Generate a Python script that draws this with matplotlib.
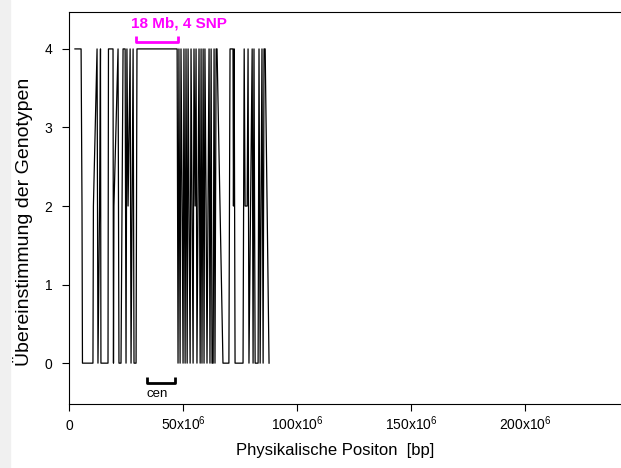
import matplotlib
matplotlib.use("Agg")
import matplotlib.pyplot as plt
from matplotlib.patches import Rectangle
import numpy as np

plt.rcParams['font.family'] = ['Liberation Sans', 'DejaVu Sans']
plt.rcParams['mathtext.default'] = 'regular'

# position (Mb) and genotype agreement
pos_mb = [2.6, 5.3, 5.7, 5.9, 10.5, 10.7, 12.3, 12.7, 13.4, 13.8, 14.0, 17.1, 17.3, 19.3,
          19.5, 19.7, 21.5, 21.9, 22.8, 23.7, 24.6, 25.0, 25.4, 25.9, 26.8, 27.2, 28.1,
          28.5, 29.4, 29.8, 35.0, 40.0, 44.0, 47.4,
          47.8, 48.2, 48.7, 49.1, 49.6, 50.0, 50.4, 50.9, 51.3, 51.8, 52.2, 52.6, 53.1,
          53.5, 54.4, 54.8, 55.3, 55.7, 56.1, 57.0, 57.5, 57.9, 58.3, 58.8, 59.2, 59.6,
          60.1, 60.5, 61.4, 61.8, 62.3, 62.7, 63.2, 63.6, 64.0, 64.5, 64.9, 67.5,
          70.1, 70.6, 71.9, 72.1, 72.4, 72.8, 76.3, 76.8, 77.2, 78.1, 78.5, 78.9, 80.3,
          80.7, 81.1, 81.6, 82.9, 83.3, 83.8, 84.2, 84.6, 85.1, 85.5, 86.0, 87.7]
agree = [4, 4, 2, 0, 0, 2, 4, 0, 2, 4, 0, 0, 4, 4,
         0, 2, 4, 0, 0, 4, 4, 0, 4, 2, 4, 0, 4,
         0, 0, 4, 4, 4, 4, 4,
         0, 4, 0, 4, 2, 0, 4, 0, 4, 0, 4, 2, 0,
         4, 0, 4, 2, 4, 0, 4, 0, 4, 0, 4, 0, 4,
         2, 0, 4, 0, 4, 0, 0, 4, 0, 4, 4, 0,
         0, 4, 4, 2, 4, 0, 0, 4, 2, 2, 4, 0, 4,
         0, 4, 0, 0, 4, 0, 2, 4, 0, 4, 4, 0]

xticks_mb = [0, 50, 100, 150, 200]
xtick_labels = ['0', r'50x10$^{6}$', r'100x10$^{6}$', r'150x10$^{6}$', r'200x10$^{6}$']

fig = plt.figure(figsize=(6.21, 4.68), dpi=100)
fig.patches.append(Rectangle((0, 0), 10 / 621, 1, transform=fig.transFigure,
                             color='#f0f0f0', zorder=0))
ax = fig.add_axes([69 / 621, 64 / 468, 1 - 69 / 621, (404 - 12) / 468])

x = np.array(pos_mb) * 1e6
ax.plot(x, agree, color='black', lw=0.9)

ax.set_xlim(0, 242e6)
ax.set_ylim(-0.52, 4.47)
ax.set_xticks(np.array(xticks_mb) * 1e6)
ax.set_xticklabels(xtick_labels)
ax.set_yticks([0, 1, 2, 3, 4])
ax.tick_params(direction='out', length=5, width=0.8, labelsize=10)
ax.tick_params(axis='y', pad=7)
ax.tick_params(axis='x', pad=14)
for lbl in ax.get_xticklabels():
    lbl.set_va('baseline')
ax.spines['right'].set_visible(False)

ax.set_xlabel('Physikalische Positon  [bp]', fontsize=12)
ax.set_ylabel('Übereinstimmung der Genotypen', fontsize=14)
ax.xaxis.set_label_coords(0.482, -0.1)
ax.yaxis.set_label_coords(-0.065, 0.464)

# 18 Mb bracket
mag = '#ff00ff'
ax.plot([29.4e6, 29.4e6, 47.8e6, 47.8e6], [4.16, 4.09, 4.09, 4.16], color=mag, lw=2,
        solid_capstyle='butt', clip_on=False)
ax.text(27.2e6, 4.27, '18 Mb, 4 SNP', color=mag, fontsize=11, fontweight='bold',
        ha='left', va='baseline')

# centromere bracket
ax.plot([34.3e6, 34.3e6, 46.5e6, 46.5e6], [-0.175, -0.25, -0.25, -0.175], color='black',
        lw=2, solid_capstyle='butt')
ax.text(38.5e6, -0.43, 'cen', fontsize=9.5, ha='center', va='baseline')

fig.savefig('out.png', dpi=100)
